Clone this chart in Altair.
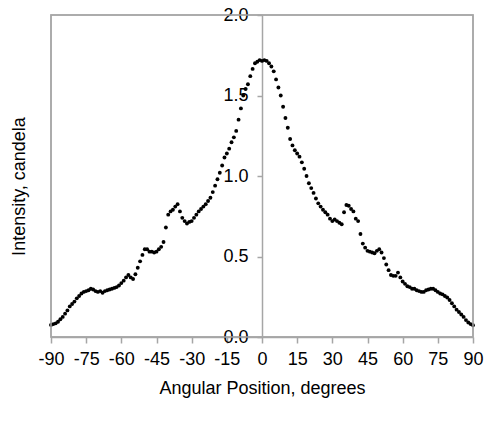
import altair as alt
import pandas as pd

angles = list(range(-90, 91))
intensity = [
    0.075, 0.08, 0.085, 0.095, 0.11, 0.125, 0.145, 0.165, 0.19, 0.205,
    0.22, 0.24, 0.255, 0.27, 0.28, 0.285, 0.29, 0.30, 0.295, 0.285,
    0.28, 0.285, 0.275, 0.285, 0.29, 0.295, 0.30, 0.305, 0.31, 0.32,
    0.335, 0.35, 0.37, 0.385, 0.37, 0.36, 0.39, 0.43, 0.47, 0.51,
    0.545, 0.545, 0.53, 0.53, 0.525, 0.53, 0.545, 0.56, 0.59, 0.68,
    0.76, 0.78, 0.79, 0.81, 0.825, 0.78, 0.74, 0.72, 0.705, 0.715,
    0.72, 0.74, 0.76, 0.78, 0.795, 0.81, 0.825, 0.845, 0.865, 0.90,
    0.94, 0.98, 1.02, 1.065, 1.115, 1.14, 1.17, 1.21, 1.24, 1.28,
    1.35, 1.42, 1.50, 1.54, 1.57, 1.62, 1.665, 1.70, 1.71, 1.72,
    1.715,
    1.72, 1.715, 1.70, 1.68, 1.65, 1.60, 1.55, 1.50, 1.43, 1.36,
    1.30, 1.23, 1.19, 1.16, 1.14, 1.12, 1.085, 1.045, 1.00, 0.955,
    0.925, 0.895, 0.86, 0.83, 0.81, 0.79, 0.775, 0.76, 0.735, 0.72,
    0.73, 0.72, 0.71, 0.70, 0.775, 0.82, 0.815, 0.795, 0.78, 0.735,
    0.72, 0.64, 0.58, 0.555, 0.535, 0.53, 0.525, 0.52, 0.535, 0.545,
    0.525, 0.49, 0.45, 0.415, 0.385, 0.38, 0.38, 0.40, 0.37, 0.345,
    0.33, 0.315, 0.31, 0.30, 0.30, 0.29, 0.285, 0.28, 0.28, 0.29,
    0.295, 0.30, 0.30, 0.29, 0.28, 0.27, 0.265, 0.255, 0.245, 0.23,
    0.21, 0.19, 0.17, 0.155, 0.14, 0.125, 0.105, 0.09, 0.08, 0.073,
]
x_ticks = list(range(-90, 91, 15))
y_ticks = [0.0, 0.5, 1.0, 1.5, 2.0]

df = pd.DataFrame({"angle": angles, "intensity": intensity})

FONT = "Liberation Sans"
GRAY = "#a6a6a6"
W, H = 422, 322

points = alt.Chart(df).mark_circle(color="black", size=15, opacity=1).encode(
    x=alt.X(
        "angle:Q",
        scale=alt.Scale(domain=[-90, 90], nice=False, zero=False),
        axis=alt.Axis(
            values=x_ticks,
            labelExpr="toString(datum.value)",
            labelOverlap=False,
            title="Angular Position, degrees",
            grid=False,
            domainColor=GRAY,
            domainWidth=1.5,
            tickColor=GRAY,
            tickWidth=1.5,
            tickSize=6,
            labelPadding=7,
            labelFont=FONT,
            labelFontSize=18,
            labelColor="black",
            titleFont=FONT,
            titleFontSize=18,
            titleFontWeight="normal",
            titleColor="black",
            titlePadding=11,
            labelFlush=False,
        ),
    ),
    y=alt.Y(
        "intensity:Q",
        scale=alt.Scale(domain=[0, 2], nice=False),
        axis=alt.Axis(
            values=y_ticks,
            format=".1f",
            labelOverlap=False,
            title="Intensity, candela",
            offset=-(W / 2),
            grid=False,
            domain=True,
            domainColor=GRAY,
            domainWidth=1.5,
            tickColor=GRAY,
            tickWidth=1.5,
            tickSize=5,
            labelPadding=9,
            labelFont=FONT,
            labelFontSize=18,
            labelColor="black",
            labelFlush=False,
            titleFont=FONT,
            titleFontSize=18,
            titleFontWeight="normal",
            titleColor="black",
            titleX=-(W / 2) - 23,
            titleY=H / 2 + 10,
        ),
    ),
)

frame = alt.Chart(pd.DataFrame({"k": [0]})).mark_rect(
    fill=None, stroke=GRAY, strokeWidth=1.5
).encode(
    x=alt.value(0), x2=alt.value(W), y=alt.value(0), y2=alt.value(H)
)

chart = (
    alt.layer(points, frame)
    .properties(
        width=W,
        height=H,
        background="white",
        autosize=alt.AutoSizeParams(type="none"),
        padding={"left": 51, "top": 15, "right": 15, "bottom": 84},
    )
    .configure_view(stroke=GRAY, strokeWidth=1.5)
)

chart.save("out.html", embed_options={"renderer": "svg", "actions": False})
